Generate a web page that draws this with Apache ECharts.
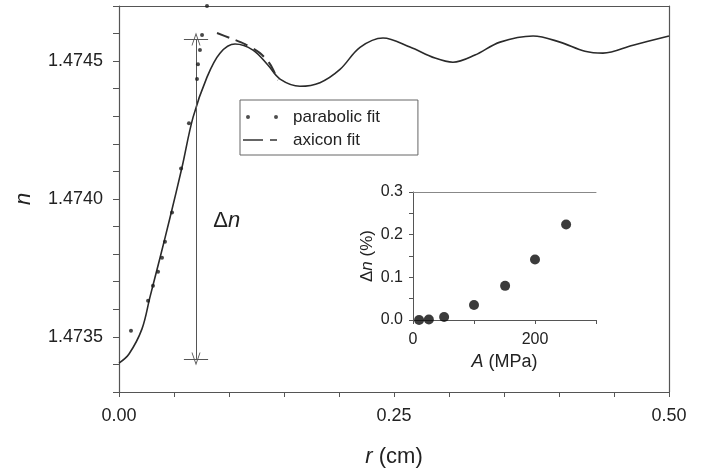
<!DOCTYPE html>
<html>
<head>
<meta charset="utf-8">
<script src="https://cdn.jsdelivr.net/npm/echarts@6/dist/echarts.min.js"></script>
<style>
html,body{margin:0;padding:0;background:#fff;}
#c{width:722px;height:473px;}
</style>
</head>
<body>
<div id="c"></div>
<script>
// ---- main profile (solid curve) ----
const profileR = [0, 0.0091, 0.0209, 0.0282, 0.0373, 0.0464, 0.0573, 0.0673, 0.0800, 0.0918, 0.1055, 0.1218, 0.1355, 0.1464, 0.1645, 0.1827, 0.2009, 0.2191, 0.2400, 0.2645, 0.2873, 0.3036, 0.3236, 0.3464, 0.3764, 0.4009, 0.4236, 0.4400, 0.4673, 0.5000];
const profileN = [1.473405, 1.473438, 1.473529, 1.473645, 1.473787, 1.473933, 1.474115, 1.474296, 1.474442, 1.474529, 1.474562, 1.474540, 1.474485, 1.474435, 1.474409, 1.474422, 1.474470, 1.474550, 1.474584, 1.474551, 1.474511, 1.474496, 1.474522, 1.474569, 1.474591, 1.474569, 1.474536, 1.474529, 1.474558, 1.474591];
// ---- axicon fit (dashed) ----
const axiconR = [0.0891, 0.1009, 0.1145, 0.1282, 0.1373, 0.1445];
const axiconN = [1.474602, 1.474584, 1.474562, 1.474529, 1.474489, 1.474431];
// ---- parabolic fit (dots) ----
const parabR = [0.0109, 0.0264, 0.0309, 0.0355, 0.0391, 0.0418, 0.0482, 0.0564, 0.0636, 0.0709, 0.0718, 0.0736, 0.0755, 0.0800];
const parabN = [1.473522, 1.473631, 1.473685, 1.473736, 1.473787, 1.473845, 1.473951, 1.474111, 1.474275, 1.474435, 1.474489, 1.474540, 1.474595, 1.474700];
// ---- delta n annotation ----
const deltaR = 0.07;
const deltaTop = 1.47458;
const deltaBottom = 1.47342;
const deltaCapHalf = 0.011;
const deltaLabelPos = [0.098, 1.47392];
// ---- inset ----
const insetA = [10, 26, 51, 100, 151, 200, 251];
const insetDn = [0.000, 0.001, 0.007, 0.035, 0.080, 0.142, 0.224];
// ---- tick labels ----
const mainXLabels = [0, 0.25, 0.5];
const mainYLabels = [1.4735, 1.474, 1.4745];
const insetXLabels = [0, 200];
const insetYLabels = [0, 0.1, 0.2, 0.3];

const zip = (a, b) => a.map((v, i) => [v, b[i]]);
const near = (arr, v, eps) => arr.some(x => Math.abs(x - v) < eps);

const FONT = 'Liberation Sans';
const TXT = '#222';
const AX = '#555';

const chart = echarts.init(document.getElementById('c'), null, {renderer: 'canvas'});

const vPath = 'path://M5,0L10,12L9,12L5,2.4L1,12L0,12Z';

const option = {
  backgroundColor: '#fff',
  animation: false,
  textStyle: {fontFamily: FONT, color: TXT},
  grid: [
    {left: 119, top: 6, width: 550, height: 386},
    {left: 413, top: 192, width: 183, height: 128}
  ],
  legend: {
    left: 240, top: 100, orient: 'vertical',
    padding: [7, 38, 5, 3],
    itemGap: 3,
    itemWidth: 45, itemHeight: 8,
    borderColor: '#666', borderWidth: 1,
    textStyle: {fontFamily: FONT, fontSize: 17, color: TXT, lineHeight: 20},
    selectedMode: false,
    data: [
      {name: 'parabolic fit', icon: 'path://M3,4a2,2 0 1,0 4,0a2,2 0 1,0 -4,0zM31,4a2,2 0 1,0 4,0a2,2 0 1,0 -4,0zM0,0h0.01v0.01h-0.01zM44.99,7.99h0.01v0.01h-0.01z', itemStyle: {color: '#222', borderWidth: 0}},
      {name: 'axicon fit', icon: 'path://M0,3.2h20v1.6h-20zM27,3.2h7v1.6h-7zM0,0h0.01v0.01h-0.01zM44.99,7.99h0.01v0.01h-0.01z', itemStyle: {color: '#333', borderWidth: 0}}
    ]
  },
  xAxis: [
    {
      gridIndex: 0, type: 'value', min: 0, max: 0.5, interval: 0.05,
      name: '{i|r} (cm)', nameLocation: 'middle', nameGap: 54,
      nameTextStyle: {fontFamily: FONT, fontSize: 22, color: TXT, rich: {i: {fontStyle: 'italic', fontFamily: FONT, fontSize: 22, color: TXT}}},
      axisLine: {show: true, lineStyle: {color: AX, width: 1.2}},
      axisTick: {show: true, inside: false, length: 5, lineStyle: {color: AX}},
      axisLabel: {margin: 15, fontSize: 18, color: TXT, fontFamily: FONT,
        formatter: v => near(mainXLabels, v, 1e-6) ? v.toFixed(2) : ''},
      splitLine: {show: false}
    },
    {
      gridIndex: 0, type: 'value', position: 'top', min: 0, max: 0.5,
      axisLine: {show: true, onZero: false, lineStyle: {color: AX, width: 1.2}},
      axisTick: {show: false}, axisLabel: {show: false}, splitLine: {show: false}
    },
    {
      gridIndex: 1, type: 'value', min: 0, max: 300, interval: 100,
      name: '{i|A} (MPa)', nameLocation: 'middle', nameGap: 33,
      nameTextStyle: {fontFamily: FONT, fontSize: 18, color: TXT, rich: {i: {fontStyle: 'italic', fontFamily: FONT, fontSize: 18, color: TXT}}},
      axisLine: {show: true, onZero: false, lineStyle: {color: AX, width: 1}},
      axisTick: {show: true, length: 4, lineStyle: {color: AX}},
      axisLabel: {margin: 12, fontSize: 16, color: TXT, fontFamily: FONT,
        formatter: v => near(insetXLabels, v, 1e-6) ? String(v) : ''},
      splitLine: {show: false}
    },
    {
      gridIndex: 1, type: 'value', position: 'top', min: 0, max: 300,
      axisLine: {show: true, onZero: false, lineStyle: {color: '#888', width: 1}},
      axisTick: {show: false}, axisLabel: {show: false}, splitLine: {show: false}
    }
  ],
  yAxis: [
    {
      gridIndex: 0, type: 'value', min: 1.4733, max: 1.4747, interval: 0.0001,
      name: 'n', nameLocation: 'middle', nameGap: 84,
      nameTextStyle: {fontFamily: FONT, fontSize: 22, fontStyle: 'italic', color: TXT},
      axisLine: {show: true, onZero: false, lineStyle: {color: AX, width: 1.2}},
      axisTick: {show: true, length: 6, lineStyle: {color: AX}},
      axisLabel: {margin: 16, fontSize: 18, color: TXT, fontFamily: FONT,
        formatter: v => near(mainYLabels, v, 1e-8) ? v.toFixed(4) : ''},
      splitLine: {show: false}
    },
    {
      gridIndex: 0, type: 'value', position: 'right', min: 1.4733, max: 1.4747,
      axisLine: {show: true, onZero: false, lineStyle: {color: AX, width: 1.2}},
      axisTick: {show: false}, axisLabel: {show: false}, splitLine: {show: false}
    },
    {
      gridIndex: 1, type: 'value', min: 0, max: 0.3, interval: 0.05,
      name: '{d|\u0394}{i|n} (%)', nameLocation: 'middle', nameGap: 37,
      nameTextStyle: {fontFamily: FONT, fontSize: 17, color: TXT, rich: {d: {fontFamily: FONT, fontSize: 17, color: TXT}, i: {fontStyle: 'italic', fontFamily: FONT, fontSize: 17, color: TXT}}},
      axisLine: {show: true, onZero: false, lineStyle: {color: AX, width: 1}},
      axisTick: {show: true, length: 4, lineStyle: {color: AX}},
      axisLabel: {margin: 10, fontSize: 16, color: TXT, fontFamily: FONT,
        formatter: v => near(insetYLabels, v, 1e-6) ? v.toFixed(1) : ''},
      splitLine: {show: false}
    }
  ],
  series: [
    {
      name: 'axicon fit', type: 'line', xAxisIndex: 0, yAxisIndex: 0,
      data: zip(profileR, profileN), smooth: 0.35, showSymbol: false, symbol: 'none',
      color: '#333',
      lineStyle: {color: '#2a2a2a', width: 1.6},
      z: 3,
      markLine: {
        silent: true, animation: false,
        symbol: ['none', 'none'],
        label: {show: false},
        lineStyle: {color: '#555', width: 1, type: 'solid'},
        data: [
          [{coord: [deltaR, deltaBottom], symbol: vPath, symbolSize: [9, 13]}, {coord: [deltaR, deltaTop], symbol: vPath, symbolSize: [9, 13]}],
          [{coord: [deltaR - deltaCapHalf, deltaTop]}, {coord: [deltaR + deltaCapHalf, deltaTop]}],
          [{coord: [deltaR - deltaCapHalf, deltaBottom]}, {coord: [deltaR + deltaCapHalf, deltaBottom]}]
        ]
      },
      markPoint: {
        silent: true, symbol: 'circle', symbolSize: 0,
        label: {show: true, position: 'inside', formatter: '{d|\u0394}{i|n}',
          rich: {d: {fontFamily: FONT, fontSize: 22, color: TXT}, i: {fontFamily: FONT, fontSize: 22, fontStyle: 'italic', color: TXT}}},
        data: [{coord: deltaLabelPos}]
      }
    },
    {
      name: 'axicon dashed', type: 'line', xAxisIndex: 0, yAxisIndex: 0,
      data: zip(axiconR, axiconN), smooth: 0.3, showSymbol: false, symbol: 'none',
      lineStyle: {color: '#333', width: 2, type: [13, 7]},
      z: 4
    },
    {
      name: 'parabolic fit', type: 'scatter', xAxisIndex: 0, yAxisIndex: 0,
      data: zip(parabR, parabN), symbol: 'circle', symbolSize: 4,
      itemStyle: {color: '#1a1a1a'}, clip: false, z: 5
    },
    {
      name: 'inset', type: 'scatter', xAxisIndex: 2, yAxisIndex: 2,
      data: zip(insetA, insetDn), symbol: 'circle', symbolSize: 10,
      itemStyle: {color: '#0a0a0a'}, clip: false
    }
  ]
};
chart.setOption(option);
</script>
</body>
</html>
